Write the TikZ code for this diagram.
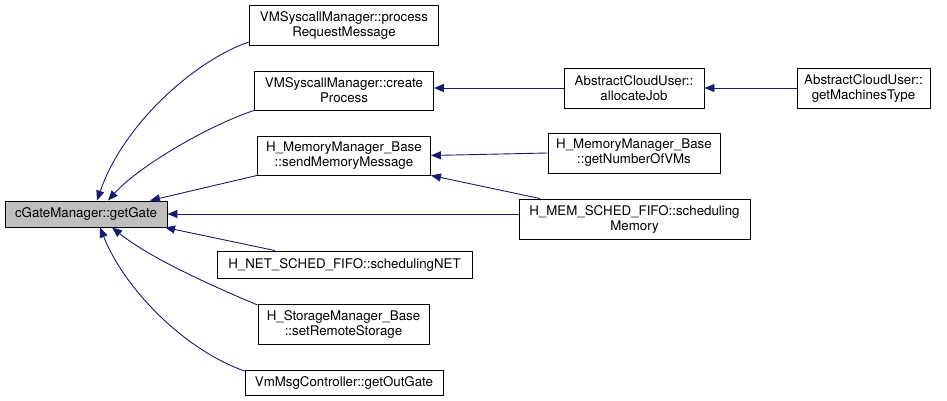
\documentclass[tikz,border=0pt]{standalone}
\usepackage{fontspec}
\setmainfont{TeX Gyre Heros}
\usetikzlibrary{arrows.meta}
\definecolor{edgeblue}{HTML}{191970}
\begin{document}
\begin{tikzpicture}[x=1pt,y=-1pt,
  box/.style={draw=black, line width=0.9pt, fill=white, inner sep=0pt, align=center,
    font=\fontsize{13.3}{15}\selectfont, text=black},
  edge/.style={draw=edgeblue, line width=0.9pt, -{Triangle[length=10pt,width=8pt]}}]
\useasboundingbox (0,0) rectangle (947,401);
% nodes
\node[box, fill={rgb,255:red,191;green,191;blue,191}, minimum width=162pt, minimum height=26pt] (gate) at (86,214) {cGateManager::getGate};
\node[box, minimum width=189pt, minimum height=40pt] (proc) at (344,25) {VMSyscallManager::process\\RequestMessage};
\node[box, minimum width=179pt, minimum height=39pt] (create) at (344,90.5) {VMSyscallManager::create\\Process};
\node[box, minimum width=173pt, minimum height=39pt] (send) at (344,155.5) {H\_MemoryManager\_Base\\::sendMemoryMessage};
\node[box, minimum width=255pt, minimum height=27pt] (net) at (344.5,264.5) {H\_NET\_SCHED\_FIFO::schedulingNET};
\node[box, minimum width=171pt, minimum height=40pt] (stor) at (343.5,324) {H\_StorageManager\_Base\\::setRemoteStorage};
\node[box, minimum width=198pt, minimum height=25pt] (vm) at (344,382.5) {VmMsgController::getOutGate};
\node[box, minimum width=140pt, minimum height=40pt] (alloc) at (634,88) {AbstractCloudUser::\\allocateJob};
\node[box, minimum width=133pt, minimum height=40pt] (mach) at (863.5,88) {AbstractCloudUser::\\getMachinesType};
\node[box, minimum width=172pt, minimum height=40pt] (numvm) at (634,153) {H\_MemoryManager\_Base\\::getNumberOfVMs};
\node[box, minimum width=231pt, minimum height=40pt] (sched) at (634.5,219) {H\_MEM\_SCHED\_FIFO::scheduling\\Memory};
% edges
\draw[edge] (proc.south west |- 0,42) .. controls (200,58) and (125,120) .. (gate.north west -| 97,0);
\draw[edge] (create.south west) .. controls (210,125) and (140,165) .. (gate.north west -| 108,0);
\draw[edge] (send.south west) -- (gate.north east -| 150,0);
\draw[edge] (sched.west |- gate) -- (gate.east);
\draw[edge] (net.north west -| 275,0) -- (gate.south east -| 165,0);
\draw[edge] (stor.north west |- 0,305) .. controls (210,285) and (150,258) .. (gate.south west -| 112,0);
\draw[edge] (vm.north west |- 0,371) .. controls (185,350) and (125,290) .. (gate.south west -| 100,0);
\draw[edge] (alloc.west) -- (create.east |- alloc.west);
\draw[edge] (mach.west) -- (alloc.east);
\draw[edge] (numvm.west) -- (send.east);
\draw[edge] (sched.north west -| 540,0) -- (send.south east);
\end{tikzpicture}
\end{document}
